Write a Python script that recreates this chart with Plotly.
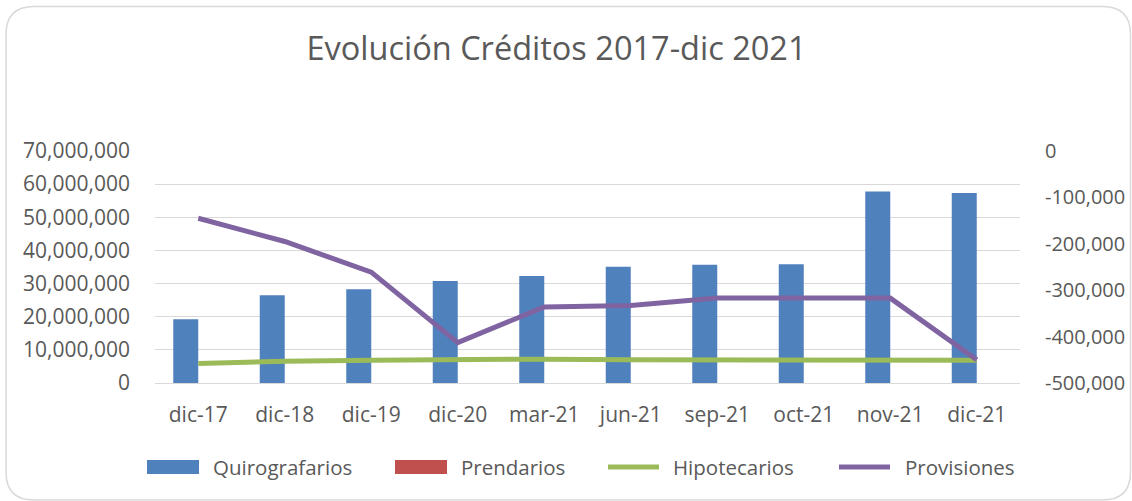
import plotly.graph_objects as go

# ---- data ----
categories = ["dic-17", "dic-18", "dic-19", "dic-20", "mar-21", "jun-21",
              "sep-21", "oct-21", "nov-21", "dic-21"]
quirografarios = [19.2e6, 26.5e6, 28.3e6, 30.8e6, 32.3e6, 35.1e6, 35.7e6, 35.8e6, 57.8e6, 57.3e6]
prendarios = [0, 0, 0, 0, 0, 0, 0, 0, 0, 0]
hipotecarios = [5.9e6, 6.6e6, 6.9e6, 7.1e6, 7.2e6, 7.0e6, 6.9e6, 6.9e6, 6.9e6, 6.9e6]
provisiones = [-145000, -195000, -261000, -413000, -336000, -333000, -317000, -317000, -317000, -450000]

series_names = ["Quirografarios", "Prendarios", "Hipotecarios", "Provisiones"]
series_colors = ["#4F81BD", "#C0504D", "#9BBB59", "#8064A2"]

left_tickvals = [0, 10e6, 20e6, 30e6, 40e6, 50e6, 60e6, 70e6]
left_ticktext = ["0", "10,000,000", "20,000,000", "30,000,000", "40,000,000",
                 "50,000,000", "60,000,000", "70,000,000"]
right_tickvals = [0, -100000, -200000, -300000, -400000, -500000]
right_ticktext = ["0", "-100,000", "-200,000", "-300,000", "-400,000", "-500,000"]

title_text = "Evolución Créditos 2017-dic 2021"

# ---- styling ----
W, H = 1132, 501
ML, MR, MT, MB = 155, 112, 151, 118
PW, PH = W - ML - MR, H - MT - MB
FONT = "Open Sans"
TXT = "#595959"
GRID = "#D9D9D9"


def px2x(px):
    return (px - ML) / PW


def px2y(py):
    return (H - MB - py) / PH


fig = go.Figure()
fig.add_trace(go.Bar(x=categories, y=quirografarios, name=series_names[0],
                     marker=dict(color=series_colors[0], line=dict(width=0))))
fig.add_trace(go.Bar(x=categories, y=prendarios, name=series_names[1],
                     marker=dict(color=series_colors[1], line=dict(width=0))))
fig.add_trace(go.Scatter(x=categories, y=hipotecarios, name=series_names[2],
                         mode="lines", line=dict(color=series_colors[2], width=5)))
fig.add_trace(go.Scatter(x=categories, y=provisiones, name=series_names[3],
                         mode="lines", yaxis="y2",
                         line=dict(color=series_colors[3], width=5)))

# rounded chart border
x0, x1 = px2x(6), px2x(1130.5)
y0, y1 = px2y(6.5), px2y(500)
rx = 28 / PW
ry = 28 / PH
path = (f"M{x0 + rx},{y0} L{x1 - rx},{y0} Q{x1},{y0} {x1},{y0 - ry} "
        f"L{x1},{y1 + ry} Q{x1},{y1} {x1 - rx},{y1} "
        f"L{x0 + rx},{y1} Q{x0},{y1} {x0},{y1 + ry} "
        f"L{x0},{y0 - ry} Q{x0},{y0} {x0 + rx},{y0} Z")
shapes = [dict(type="path", xref="paper", yref="paper", path=path,
               line=dict(color=GRID, width=1.5), fillcolor="rgba(0,0,0,0)",
               layer="below")]

# legend (drawn as in the original: wide swatches)
legend_sym_x = [147, 395, 606, 837]
legend_txt_x = [211, 459, 671, 903]
LEG_Y = 467
annotations = []
for i, name in enumerate(series_names):
    sx = legend_sym_x[i]
    if i < 2:
        shapes.append(dict(type="rect", xref="paper", yref="paper",
                           x0=px2x(sx), x1=px2x(sx + 52),
                           y0=px2y(LEG_Y - 7), y1=px2y(LEG_Y + 7),
                           fillcolor=series_colors[i], line=dict(width=0)))
    else:
        shapes.append(dict(type="line", xref="paper", yref="paper",
                           x0=px2x(sx + 2), x1=px2x(sx + 53),
                           y0=px2y(LEG_Y), y1=px2y(LEG_Y),
                           line=dict(color=series_colors[i], width=5)))
    annotations.append(dict(text=name, xref="paper", yref="paper",
                            x=px2x(legend_txt_x[i]), y=px2y(LEG_Y),
                            xanchor="left", yanchor="middle", showarrow=False,
                            font=dict(family=FONT, size=20.5, color=TXT)))

fig.update_layout(
    width=W, height=H,
    margin=dict(l=ML, r=MR, t=MT, b=MB, pad=0, autoexpand=False),
    paper_bgcolor="white", plot_bgcolor="white",
    font=dict(family=FONT, color=TXT, size=21),
    title=dict(text=title_text, x=556.5 / W, xanchor="center",
               y=1 - 49 / H, yanchor="middle",
               font=dict(family=FONT, size=32.5, color=TXT)),
    barmode="group", bargap=0.422, bargroupgap=0,
    showlegend=False,
    xaxis=dict(type="category", showgrid=False, showline=False, zeroline=False,
               ticks="", tickfont=dict(size=21, color=TXT),
               ticklabelstandoff=17, automargin=False),
    yaxis=dict(range=[0, 70e6], tickvals=left_tickvals, ticktext=left_ticktext,
               showgrid=True, gridcolor=GRID, gridwidth=1.3,
               zeroline=True, zerolinecolor=GRID, zerolinewidth=1.3,
               showline=False, ticks="", tickfont=dict(size=21, color=TXT),
               ticklabelstandoff=24, automargin=False),
    yaxis2=dict(range=[-500000, 0], overlaying="y", side="right",
                tickvals=right_tickvals, ticktext=right_ticktext,
                showgrid=False, zeroline=False, showline=False, ticks="",
                tickfont=dict(size=20, color=TXT), ticklabelstandoff=24,
                automargin=False),
    shapes=shapes,
    annotations=annotations,
)

fig.write_html("out.html", config={"displayModeBar": False},
               post_script="document.body.style.margin='0px';")
